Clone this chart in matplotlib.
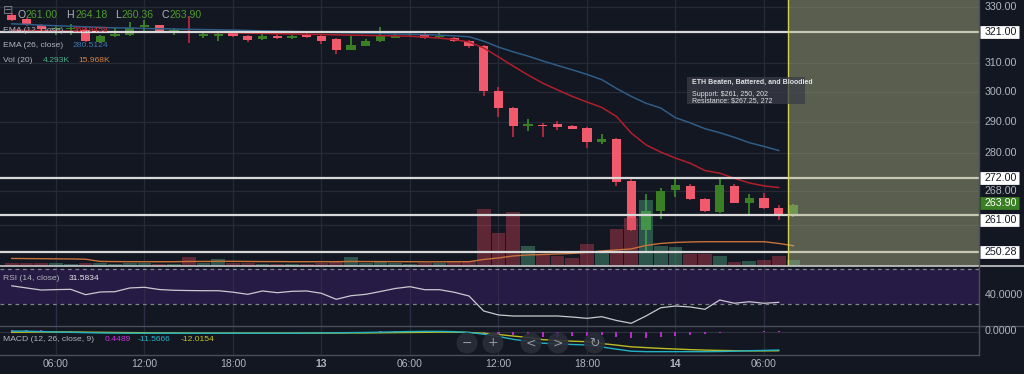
import matplotlib
matplotlib.use('Agg')
import matplotlib.pyplot as plt
from matplotlib.lines import Line2D
from matplotlib.patches import Ellipse, Rectangle
from matplotlib.ticker import NullLocator
from matplotlib.transforms import blended_transform_factory, offset_copy

# hourly candles, hour counted from 00:00 on the 12th (03:00 12th .. 08:00 14th)
hours = list(range(3, 57))
opens = [327.1, 325.6, 323.5, 321.9, 322.0, 321.6, 317.3, 319.4, 319.9, 322.9,
         323.3, 321.3, 321.2, 319.6, 319.4, 320.7, 319.6, 318.4, 319.6, 318.7,
         320.0, 319.5, 318.3, 314.5, 315.9, 317.6, 318.9, 319.7, 320.3, 319.1,
         318.7, 317.6, 316.0, 300.3, 294.4, 288.6, 289.0, 289.1, 288.6, 288.0,
         283.3, 284.4, 271.2, 256.6, 262.1, 268.4, 269.8, 265.6, 262.0, 269.8,
         264.6, 265.9, 263.1, 261.00]
highs = [327.8, 326.0, 323.9, 323.0, 323.7, 323.0, 319.9, 322.7, 324.6, 325.3,
         323.6, 322.3, 326.6, 321.2, 321.0, 321.0, 319.9, 320.3, 320.3, 320.0,
         320.6, 320.0, 318.8, 319.6, 318.3, 322.8, 320.9, 320.5, 320.6, 320.4,
         319.0, 317.9, 316.3, 301.5, 294.8, 291.0, 289.6, 290.2, 288.9, 288.3,
         285.9, 284.6, 272.5, 267.3, 269.0, 272.0, 270.3, 265.9, 271.8, 270.3,
         267.1, 267.5, 263.9, 264.18]
lows = [324.9, 323.2, 321.7, 320.0, 319.7, 317.3, 317.0, 319.2, 319.6, 321.2,
        320.8, 320.0, 317.0, 318.9, 317.8, 319.2, 317.4, 318.2, 318.3, 318.4,
        318.8, 316.5, 313.0, 314.3, 315.7, 317.4, 318.8, 319.4, 318.4, 318.9,
        317.4, 315.0, 298.5, 291.6, 285.0, 286.8, 285.0, 287.3, 287.5, 281.5,
        282.9, 269.8, 256.4, 250.3, 259.8, 266.3, 265.5, 262.0, 261.7, 264.4,
        261.0, 262.6, 259.5, 260.36]
closes = [325.3, 323.5, 322.0, 322.3, 322.5, 317.6, 319.6, 320.2, 322.3, 323.4,
          321.2, 321.6, 320.4, 320.3, 320.3, 319.4, 318.2, 319.4, 318.7, 319.6,
          319.0, 317.5, 314.6, 316.2, 317.6, 319.3, 319.6, 320.0, 318.7, 319.5,
          317.7, 315.7, 300.3, 294.4, 288.5, 289.1, 288.7, 288.3, 287.7, 283.3,
          284.4, 270.9, 256.6, 262.2, 268.2, 269.9, 265.6, 262.2, 269.9, 264.6,
          265.9, 263.1, 261.0, 263.90]
volumes = [2.0, 2.5, 2.0, 2.0, 1.5, 2.4, 1.8, 1.5, 2.5, 2.0,
           1.6, 1.2, 7.2, 1.8, 5.2, 2.0, 2.2, 1.5, 1.5, 1.2,
           1.4, 2.2, 3.0, 6.7, 2.0, 3.4, 1.8, 1.4, 2.0, 2.2,
           3.8, 3.9, 45.4, 25.9, 42.7, 15.8, 9.0, 7.8, 6.2, 17.4,
           9.8, 29.2, 38.0, 52.6, 15.8, 14.7, 9.1, 9.1, 7.8, 3.2,
           4.0, 4.6, 8.0, 4.293]
vol_ma = [5.8, 5.7, 5.6, 5.5, 5.4, 5.2, 3.4, 3.3, 3.2, 3.2,
          3.2, 3.2, 3.4, 3.4, 3.5, 3.5, 3.4, 3.3, 3.3, 3.2,
          3.2, 3.2, 3.2, 3.4, 3.3, 3.3, 3.2, 3.2, 3.1, 3.1,
          3.2, 3.2, 5.0, 6.2, 7.8, 8.6, 9.0, 9.4, 9.8, 10.6,
          11.8, 12.6, 13.4, 16.2, 17.8, 18.6, 19.0, 19.2, 19.2, 19.2,
          19.2, 19.2, 17.8, 15.968]
# indicators stop one bar before the last candle
ema12 = [321.6, 321.5, 321.4, 321.3, 321.2, 321.0, 320.9, 320.9, 320.9, 321.0,
         321.0, 320.9, 320.9, 320.8, 320.7, 320.7, 320.5, 320.4, 320.3, 320.2,
         320.1, 320.0, 319.9, 319.8, 319.7, 319.6, 319.5, 319.4, 319.1, 318.7,
         318.2, 317.3, 315.2, 312.0, 308.8, 305.7, 302.9, 300.6, 298.4, 296.5,
         294.7, 291.7, 286.3, 282.5, 280.2, 278.3, 276.7, 274.4, 273.6, 272.0,
         270.6, 269.7, 269.2]
ema26 = [323.9, 323.7, 323.4, 323.2, 323.0, 322.8, 322.6, 322.4, 322.4, 322.2,
         322.1, 322.0, 321.9, 321.8, 321.7, 321.6, 321.5, 321.3, 321.2, 321.1,
         321.0, 320.9, 320.7, 320.6, 320.5, 320.4, 320.2, 320.1, 320.0, 319.8,
         319.5, 319.2, 317.6, 315.5, 313.8, 312.3, 310.6, 309.0, 307.5, 305.9,
         304.1, 301.1, 298.4, 296.1, 294.5, 291.3, 289.6, 287.7, 286.4, 284.9,
         283.2, 282.0, 280.7]
rsi = [50.8, 48.3, 45.9, 46.4, 46.7, 40.5, 43.6, 44.0, 48.3, 49.1,
       46.5, 45.6, 45.3, 45.1, 45.1, 43.4, 40.9, 44.8, 42.8, 44.4,
       44.8, 42.1, 35.1, 39.3, 40.9, 44.2, 47.7, 49.8, 46.3, 46.3,
       43.3, 39.0, 21.5, 16.9, 15.7, 15.7, 15.7, 15.7, 14.5, 13.0,
       14.9, 10.5, 7.2, 15.7, 25.3, 27.3, 26.2, 23.5, 34.3, 30.5,
       32.3, 30.5, 31.58]
macd = [0.6, 0.5, 0.3, 0.0, -0.2, -0.4, -0.6, -0.7, -0.8, -0.8,
        -0.8, -0.8, -0.8, -0.8, -0.8, -0.8, -0.8, -0.8, -0.8, -0.8,
        -0.7, -0.6, -0.5, -0.4, -0.3, -0.1, 0.1, 0.3, 0.4, 0.4,
        0.2, -0.3, -1.4, -2.9, -4.7, -6.0, -7.2, -7.6, -8.0, -8.3,
        -9.6, -11.0, -12.3, -12.6, -12.6, -12.6, -12.6, -12.6, -12.5, -12.3,
        -12.0, -11.8, -11.57]
signal = [-0.2, -0.1, 0.0, 0.0, 0.0, -0.1, -0.2, -0.3, -0.4, -0.5,
          -0.6, -0.6, -0.7, -0.7, -0.7, -0.7, -0.7, -0.7, -0.7, -0.7,
          -0.7, -0.7, -0.7, -0.6, -0.6, -0.5, -0.4, -0.3, -0.2, -0.1,
          -0.1, -0.3, -0.8, -1.6, -2.6, -3.5, -4.9, -5.4, -5.9, -6.2,
          -7.4, -8.4, -9.5, -10.0, -10.5, -10.9, -11.3, -11.6, -11.8, -12.0,
          -12.1, -12.1, -12.02]
hist = [1.5, 1.3, 1.2, 0.6, 0.4, 0.3, 0.3, 0.3, 0.3, 0.3,
        0.3, 0.3, 0.3, 0.3, 0.3, 0.3, 0.3, 0.3, 0.3, 0.3,
        0.3, 0.3, 0.3, 0.3, 0.3, 0.4, 0.6, 0.8, 0.8, 0.6,
        0.4, -0.5, -1.2, -1.8, -2.1, -2.1, -3.0, -3.0, -2.6, -2.6,
        -2.1, -3.4, -4.0, -3.7, -3.0, -2.6, -1.9, -1.3, -0.4, -0.1,
        0.1, 0.6, 0.4489]
levels = [321.00, 272.00, 261.00, 250.28]
grid_prices = [330, 310, 300, 290, 280, 268, 258]
tick_prices = [330, 310, 300, 290, 280, 268]
time_ticks = [6, 12, 18, 24, 30, 36, 42, 48, 54]
time_labels = ['06:00', '12:00', '18:00', '13', '06:00', '12:00', '18:00', '14', '06:00']
zone_start = 55.63
note = ['ETH Beaten, Battered, and Bloodied', '',
        'Support: $261, 250, 202', 'Resistance: $267.25, 272']

W, H = 1024, 374
BG = '#131722'
GRID = '#262a37'
TXT = '#b2b5be'
UP, DOWN = '#3a7f23', '#f15a6c'
UPW, DOWNW = '#3d9a2b', '#d62b44'

plt.rcParams['font.family'] = ['Liberation Sans', 'DejaVu Sans']

fig = plt.figure(figsize=(W / 100, H / 100), dpi=100, facecolor=BG)


def fx(x):
    return x / W


def fy(y):
    return 1 - y / H


X0, X1 = 2.203, 68.58


def pane(top, bottom):
    a = fig.add_axes([0, fy(bottom), fx(979), (bottom - top) / H])
    a.set_facecolor(BG)
    for s in a.spines.values():
        s.set_visible(False)
    a.tick_params(which='both', left=False, bottom=False, right=False,
                  labelleft=False, labelbottom=False, labelright=False)
    for t in time_ticks:
        a.axvline(t, color=GRID, lw=0.9, zorder=0)
    return a


# ---- price pane
ax = pane(0, 265.7)
ax.set_yscale('log')
ax.yaxis.set_minor_locator(NullLocator())
ax.set_yticks([])
for g in grid_prices:
    ax.axhline(g, color=GRID, lw=0.9, zorder=0)

up = [c >= o for o, c in zip(opens, closes)]
lo = [min(o, c) for o, c in zip(opens, closes)]
hgt = [max(abs(c - o), 0.3) for o, c in zip(opens, closes)]
ax.vlines(hours, lows, highs, colors=[UPW if u else DOWNW for u in up], lw=1.1, zorder=3)
ax.bar(hours, hgt, bottom=lo, width=0.63, color=[UP if u else DOWN for u in up], zorder=4)
ax.plot(hours[:len(ema12)], ema12, color='#b01f2b', lw=1.1, zorder=5)
ax.plot(hours[:len(ema26)], ema26, color='#2e5d88', lw=1.1, zorder=5)
ax.set_xlim(X0, X1)
ax.set_ylim(246.44, 332.73)

ax2 = ax.twinx()
for s in ax2.spines.values():
    s.set_visible(False)
ax2.tick_params(which='both', right=False, labelright=False)
ax2.bar(hours, volumes, width=0.93,
        color=['#54b288' if u else '#d14156' for u in up], alpha=0.4, lw=0, zorder=2)
ax2.plot(hours, vol_ma, color='#c8723a', lw=1.0, zorder=3)
for lv in levels:
    ax2.plot([X0, X1], [lv, lv], transform=ax.transData, color='#d9d9d9', lw=1.6, zorder=4)
ax2.axvspan(zone_start, X1, color='#b0b585', alpha=0.45, lw=0, zorder=6)
ax2.axvline(zone_start, color='#d2d24c', lw=1.0, zorder=7)
ax2.set_ylim(0, 212.6)
ax2.set_xlim(X0, X1)

# ---- RSI pane
ar = pane(265.7, 326.3)
ar.axhspan(30, 70, color='#261b44', lw=0, zorder=0)
for t in time_ticks:
    ar.axvline(t, color='#2f2a48', lw=0.9, zorder=0.5)
for lv in (30, 70):
    ar.axhline(lv, color='#80838d', lw=0.9, ls=(0, (3, 3)), zorder=1)
ar.plot(hours[:len(rsi)], rsi, color='#c9c9cf', lw=0.9, zorder=3)
ar.set_xlim(X0, X1)
ar.set_ylim(3.72, 74.19)

# ---- MACD pane
am = pane(326.3, 355)
am.axhline(0, color='#2c303c', lw=0.9, zorder=0)
am.bar(hours[:len(hist)], hist, width=0.14, color='#b52cc9', zorder=2)
am.plot(hours[:len(signal)], signal, color='#bcbc22', lw=1.0, zorder=3)
am.plot(hours[:len(macd)], macd, color='#21b3c4', lw=1.0, zorder=3)
am.set_xlim(X0, X1)
am.set_ylim(-14.74, 3.65)

# ---- frame lines
fig.add_artist(Line2D([0, 1], [fy(265.7), fy(265.7)], color='#c8c9cc', lw=1.2))
fig.add_artist(Line2D([0, 1], [fy(326.3), fy(326.3)], color='#4a4e59', lw=1.0))
fig.add_artist(Line2D([0, fx(979)], [fy(355), fy(355)], color='#4a4e59', lw=1.0))
fig.add_artist(Line2D([fx(979), fx(979)], [fy(355), 1], color='#4a4e59', lw=1.0))

# ---- right scale
tr = blended_transform_factory(fig.transFigure, ax.transData)


def tag(p, s, shift=0, fc=None, tc=TXT, trans=tr):
    t = offset_copy(trans, fig=fig, x=0, y=-shift, units='dots')
    if fc:
        fig.add_artist(Line2D([fx(980), fx(1019)], [p, p], transform=t, lw=9.2,
                              color=fc, solid_capstyle='butt'))
    fig.text(fx(984.5), p, s, transform=t, fontsize=7.7, color=tc, ha='left', va='center')


for p in tick_prices:
    tag(p, f'{p:.2f}')
tag(levels[0], f'{levels[0]:.2f}', fc='white', tc='#131722')
tag(levels[1], f'{levels[1]:.2f}', fc='white', tc='#131722')
tag(levels[2], f'{levels[2]:.2f}', shift=5, fc='white', tc='#131722')
tag(levels[3], f'{levels[3]:.2f}', fc='white', tc='#131722')
tag(closes[-1], f'{closes[-1]:.2f}', shift=-2, fc='#3a7f23', tc='white')
tag(40, '40.0000', trans=blended_transform_factory(fig.transFigure, ar.transData))
tag(0, '0.0000', shift=-1, trans=blended_transform_factory(fig.transFigure, am.transData))

# ---- time axis
tt = blended_transform_factory(ax.transData, fig.transFigure)
for t, lab in zip(time_ticks, time_labels):
    fig.text(t, fy(364), lab, transform=tt, ha='center', va='center', fontsize=7.5,
             color=TXT, fontweight='bold' if len(lab) == 2 else 'normal')

# ---- legends
fig.text(fx(2.5), fy(11), '\u229f', fontsize=9, color='#787b86', va='center',
         family='DejaVu Sans')
GV = '#4f9a2e'
for x, s, c in [(17, 'O', TXT), (26, f'{opens[-1]:.2f}', GV), (66, 'H', TXT),
                (75, f'{highs[-1]:.2f}', GV), (115, 'L', TXT), (122, f'{lows[-1]:.2f}', GV),
                (162, 'C', TXT), (170, f'{closes[-1]:.2f}', GV)]:
    fig.text(fx(x), fy(14.5), s, fontsize=7.6, color=c, va='center')

LF = 6.1
fig.text(fx(3), fy(30), 'EMA (12, close)', fontsize=LF, color=TXT, va='center')
fig.text(fx(73), fy(30), '268.9458', fontsize=LF, color='#e0303c', va='center')
fig.text(fx(3), fy(45.5), 'EMA (26, close)', fontsize=LF, color=TXT, va='center')
fig.text(fx(73), fy(45.5), '280.5124', fontsize=LF, color='#3f78ad', va='center')
fig.text(fx(3), fy(61), 'Vol (20)', fontsize=LF, color=TXT, va='center')
fig.text(fx(43), fy(61), f'{volumes[-1]:.3f}K', fontsize=LF, color='#4fae8a', va='center')
fig.text(fx(78), fy(61), f'{vol_ma[-1]:.3f}K', fontsize=LF, color='#d9843f', va='center')
fig.text(fx(3), fy(278.5), 'RSI (14, close)', fontsize=LF, color=TXT, va='center')
fig.text(fx(69), fy(278.5), '31.5834', fontsize=LF, color='#e6e6ea', va='center')
fig.text(fx(3), fy(339.5), 'MACD (12, 26, close, 9)', fontsize=LF, color=TXT, va='center')
fig.text(fx(105), fy(339.5), '0.4489', fontsize=LF, color='#c832dc', va='center')
fig.text(fx(138), fy(339.5), '-11.5666', fontsize=LF, color='#22b8cc', va='center')
fig.text(fx(181), fy(339.5), '-12.0154', fontsize=LF, color='#c8c820', va='center')

# ---- note box
fig.add_artist(Rectangle((fx(687), fy(104.3)), (805 - 687) / W, 27.6 / H,
                         fc='#3a3d47', ec='none', alpha=0.75, zorder=2))
for i, (line, y) in enumerate(zip(note, [82, 88, 94, 100.5])):
    if line:
        fig.text(fx(692), fy(y), line, fontsize=5.0, color='#e0e1e6', va='center',
                 parse_math=False, fontweight='bold' if i == 0 else 'normal', zorder=3)

# ---- navigation buttons
for x, sym in [(467, '\u2212'), (493, '+'), (531, '<'), (558, '>'), (594.5, '\u21bb')]:
    fig.add_artist(Ellipse((fx(x), fy(343)), 21 / W, 21 / H, fc='#2a2e39', ec='none',
                           alpha=0.9, zorder=2))
    fig.text(fx(x), fy(343), sym, ha='center', va='center', fontsize=9, color='#9598a1',
             family='DejaVu Sans', zorder=3)

fig.savefig('out.png', dpi=100, facecolor=BG)
